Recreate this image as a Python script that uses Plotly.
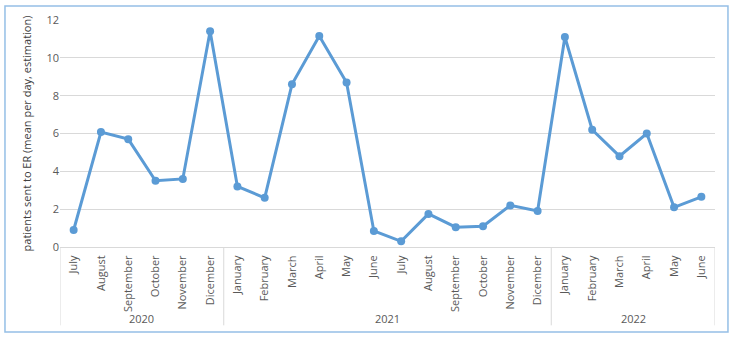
import plotly.graph_objects as go

years = ["2020", "2021", "2022"]
year_counts = [6, 12, 6]
months = ["July", "August", "September", "October", "November", "Dicember",
          "January", "February", "March", "April", "May", "June",
          "July", "August", "September", "October", "November", "Dicember",
          "January", "February", "March", "April", "May", "June"]
patients = [0.9, 6.08, 5.7, 3.5, 3.6, 11.4,
            3.2, 2.6, 8.6, 11.15, 8.7, 0.85,
            0.3, 1.75, 1.05, 1.1, 2.2, 1.9,
            11.1, 6.2, 4.8, 6.0, 2.1, 2.65]

idx = list(range(len(months)))

fig = go.Figure()
fig.add_trace(go.Scatter(
    x=idx, y=patients,
    mode='lines+markers',
    line=dict(color='#5B9BD5', width=3),
    marker=dict(color='#5B9BD5', size=8),
    showlegend=False
))

# year group dividers and labels below the month labels
shapes = [dict(type='rect', xref='paper', yref='paper',
               x0=-0.084, x1=1.0198, y0=-0.374, y1=1.0617,
               line=dict(color='#95BFE6', width=1.5), layer='below')]
annotations = []
start = 0
bounds = [-0.5]
for yr, n in zip(years, year_counts):
    annotations.append(dict(x=start + (n - 1) / 2, y=-0.313, xref='x', yref='paper',
                            yanchor='middle', text=yr, showarrow=False,
                            font=dict(size=11, color='#595959')))
    start += n
    bounds.append(start - 0.5)
for b in bounds:
    shapes.append(dict(type='line', xref='x', yref='paper',
                       x0=b, x1=b, y0=0, y1=-0.345,
                       line=dict(color='#D9D9D9', width=1)))

fig.update_layout(
    width=738, height=338,
    margin=dict(l=60, r=23, t=20, b=91),
    paper_bgcolor='white', plot_bgcolor='white',
    font=dict(family='Open Sans, Liberation Sans, sans-serif', size=10, color='#595959'),
    shapes=shapes, annotations=annotations
)
fig.update_yaxes(
    range=[0, 12], dtick=2, showgrid=True, gridcolor='#D9D9D9',
    zeroline=False, ticks='', ticklen=0,
    title=dict(text='patients sent to ER (mean per day, estimation)',
               font=dict(size=11, color='#404040'), standoff=12),
    tickfont=dict(size=11)
)
fig.update_xaxes(
    range=[-0.5, len(months) - 0.5],
    tickmode='array', tickvals=idx, ticktext=months,
    tickangle=-90, showgrid=False, showline=True, linecolor='#D9D9D9',
    zeroline=False, ticks='outside', ticklen=3, tickcolor='rgba(0,0,0,0)',
    tickfont=dict(size=11)
)

fig.write_html("out.html", config={'displayModeBar': False},
               post_script="document.body.style.margin='0';")
